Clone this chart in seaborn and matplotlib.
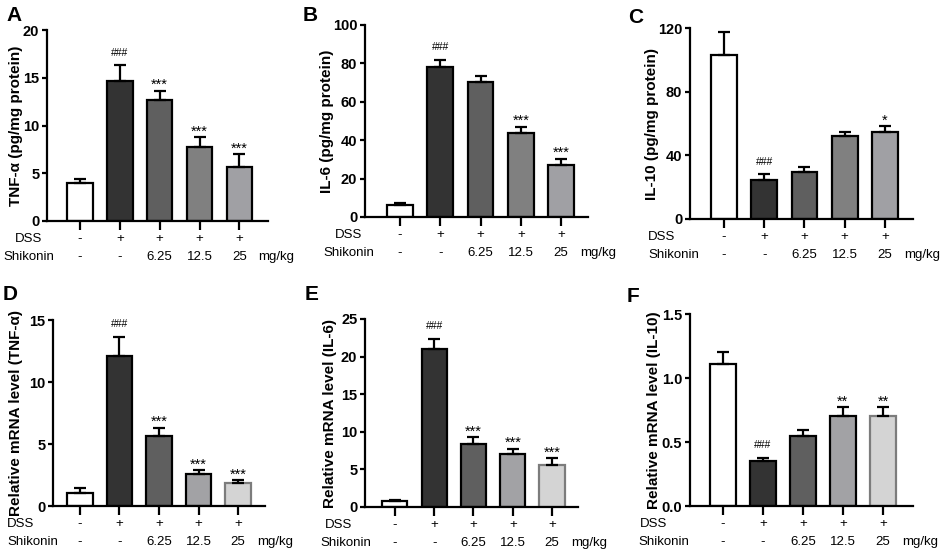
import numpy as np
import pandas as pd
import matplotlib
matplotlib.use("Agg")
import matplotlib.pyplot as plt
import seaborn as sns

# ---- data ----
groups = ["Control", "DSS", "DSS+SK 6.25", "DSS+SK 12.5", "DSS+SK 25"]
dss_row = ["-", "+", "+", "+", "+"]
shik_row = ["-", "-", "6.25", "12.5", "25"]

tnf_protein = [4.0, 14.7, 12.7, 7.8, 5.7]
tnf_protein_err = [0.45, 1.6, 0.95, 0.95, 1.3]
il6_protein = [6.1, 78.3, 70.4, 44.0, 27.0]
il6_protein_err = [1.4, 3.4, 3.2, 3.1, 3.4]
il10_protein = [102.8, 24.7, 29.3, 51.9, 54.7]
il10_protein_err = [14.9, 3.4, 3.2, 2.8, 3.9]
tnf_mrna = [1.08, 12.1, 5.67, 2.55, 1.83]
tnf_mrna_err = [0.4, 1.55, 0.65, 0.35, 0.27]
il6_mrna = [0.75, 21.05, 8.42, 7.05, 5.63]
il6_mrna_err = [0.23, 1.35, 0.84, 0.71, 0.89]
il10_mrna = [1.107, 0.348, 0.545, 0.707, 0.707]
il10_mrna_err = [0.10, 0.026, 0.052, 0.068, 0.068]

sig_a = ["", "###", "***", "***", "***"]
sig_b = ["", "###", "", "***", "***"]
sig_c = ["", "###", "", "", "*"]
sig_d = ["", "###", "***", "***", "***"]
sig_e = ["", "###", "***", "***", "***"]
sig_f = ["", "###", "", "**", "**"]

top_colors = ["#ffffff", "#333333", "#5f5f5f", "#808080", "#a0a0a4"]
bottom_colors = ["#ffffff", "#333333", "#5f5f5f", "#a2a2a5", "#d4d4d4"]
top_edges = ["black"] * 5
bottom_edges = ["black", "black", "black", "black", "#7c7c7c"]

sns.set_style("ticks")
plt.rcParams["font.family"] = ["Liberation Sans", "DejaVu Sans"]
for key in ("text.color", "axes.labelcolor", "xtick.color", "ytick.color", "axes.edgecolor"):
    plt.rcParams[key] = "black"

W, H = 941, 551
fig = plt.figure(figsize=(W / 100, H / 100), dpi=100)
PX = 0.72  # points per pixel

# letter, values, errors, sig, ylabel, yticks, fmt, colors, edges,
# axes box (left, top, right, bottom px), xlim, ylabel offset px, row label left px, letter pos
panels = [
    ("A", tnf_protein, tnf_protein_err, sig_a, "TNF-α (pg/mg protein)",
     [0, 5, 10, 15, 20], "{:g}", top_colors, top_edges,
     (47, 30, 268, 221), (-0.83, 4.72), 31, (15, 3), (6, 6)),
    ("B", il6_protein, il6_protein_err, sig_b, "IL-6 (pg/mg protein)",
     [0, 20, 40, 60, 80, 100], "{:g}", top_colors, top_edges,
     (365, 25, 588, 217), (-0.87, 4.67), 38, (335, 323), (303, 6)),
    ("C", il10_protein, il10_protein_err, sig_c, "IL-10 (pg/mg protein)",
     [0, 40, 80, 120], "{:g}", top_colors, top_edges,
     (690, 28, 913, 219), (-0.845, 4.70), 38, (648, 648), (628, 8)),
    ("D", tnf_mrna, tnf_mrna_err, sig_d, "Relative mRNA level (TNF-α)",
     [0, 5, 10, 15], "{:g}", bottom_colors, bottom_edges,
     (53, 320, 265, 506), (-0.68, 4.68), 37, (7, 7), (3, 285)),
    ("E", il6_mrna, il6_mrna_err, sig_e, "Relative mRNA level (IL-6)",
     [0, 5, 10, 15, 20, 25], "{:g}", bottom_colors, bottom_edges,
     (365, 319, 578, 507), (-0.76, 4.66), 35, (325, 320), (305, 285)),
    ("F", il10_mrna, il10_mrna_err, sig_f, "Relative mRNA level (IL-10)",
     [0, 0.5, 1.0, 1.5], "{:.1f}", bottom_colors, bottom_edges,
     (690, 314, 913, 506), (-0.82, 4.75), 36, (640, 638), (627, 287)),
]

for (letter, vals, errs, sig, ylabel, yticks, fmt, colors, edges,
     box, xlim, ylab_off, row_left, letter_pos) in panels:
    l, t, r, b = box
    ax = fig.add_axes([l / W, 1 - b / H, (r - l) / W, (b - t) / H])
    df = pd.DataFrame({"group": groups, "value": vals})
    sns.barplot(data=df, x="group", y="value", hue="group", palette=colors,
                order=groups, hue_order=groups, legend=False, width=0.64,
                errorbar=None, ax=ax, linewidth=1.6, saturation=1)
    for patch, ec in zip(ax.patches, edges):
        patch.set_edgecolor(ec)
    x = np.arange(len(groups))
    ax.errorbar(x, vals, yerr=[np.zeros(len(vals)), errs], fmt="none",
                ecolor="black", elinewidth=1.6, capsize=4.6, capthick=1.6,
                zorder=1)
    for xi, v, e, s in zip(x, vals, errs, sig):
        if not s:
            continue
        if s.startswith("#"):
            ax.annotate(s, xy=(xi, v + e), xytext=(0, 7), textcoords="offset points",
                        ha="center", va="baseline", fontsize=7.5)
        else:
            ax.annotate(s, xy=(xi, v + e), xytext=(0, 1), textcoords="offset points",
                        ha="center", va="baseline", fontsize=10.5)

    ax.set_xlim(*xlim)
    ax.set_ylim(yticks[0], yticks[-1])
    ax.set_yticks(yticks)
    ax.set_yticklabels([fmt.format(v) for v in yticks], fontweight="bold", fontsize=10.5)
    ax.set_xticks(x)
    ax.set_xticklabels([])
    ax.set_xlabel("")
    ax.set_ylabel(ylabel, fontweight="bold", fontsize=11, va="center")
    ax.yaxis.set_label_coords(-ylab_off / (r - l), 0.5)
    sns.despine(ax=ax)
    for sp in ("left", "bottom"):
        ax.spines[sp].set_linewidth(1.6)
    ax.tick_params(axis="y", length=3.5, width=1.6, pad=2)
    ax.tick_params(axis="x", length=6.5, width=1.6)

    # treatment rows under the axis
    for xi, d_lab, s_lab in zip(x, dss_row, shik_row):
        ax.annotate(d_lab, xy=(xi, 0), xycoords=ax.get_xaxis_transform(),
                    xytext=(0, -18 * PX), textcoords="offset points",
                    ha="center", va="center", fontsize=9.5)
        ax.annotate(s_lab, xy=(xi, 0), xycoords=ax.get_xaxis_transform(),
                    xytext=(0, -36 * PX), textcoords="offset points",
                    ha="center", va="center", fontsize=9.5)
    ax.annotate("mg/kg", xy=(x[-1], 0), xycoords=ax.get_xaxis_transform(),
                xytext=(37 * PX, -36 * PX), textcoords="offset points",
                ha="center", va="center", fontsize=9.5)
    fig.text(row_left[0] / W, 1 - (b + 18) / H, "DSS", ha="left", va="center", fontsize=9.5)
    fig.text(row_left[1] / W, 1 - (b + 36) / H, "Shikonin", ha="left", va="center", fontsize=9.5)
    fig.text(letter_pos[0] / W, 1 - letter_pos[1] / H, letter, ha="left", va="top",
             fontsize=15, fontweight="bold")

fig.savefig("out.png", dpi=100)
